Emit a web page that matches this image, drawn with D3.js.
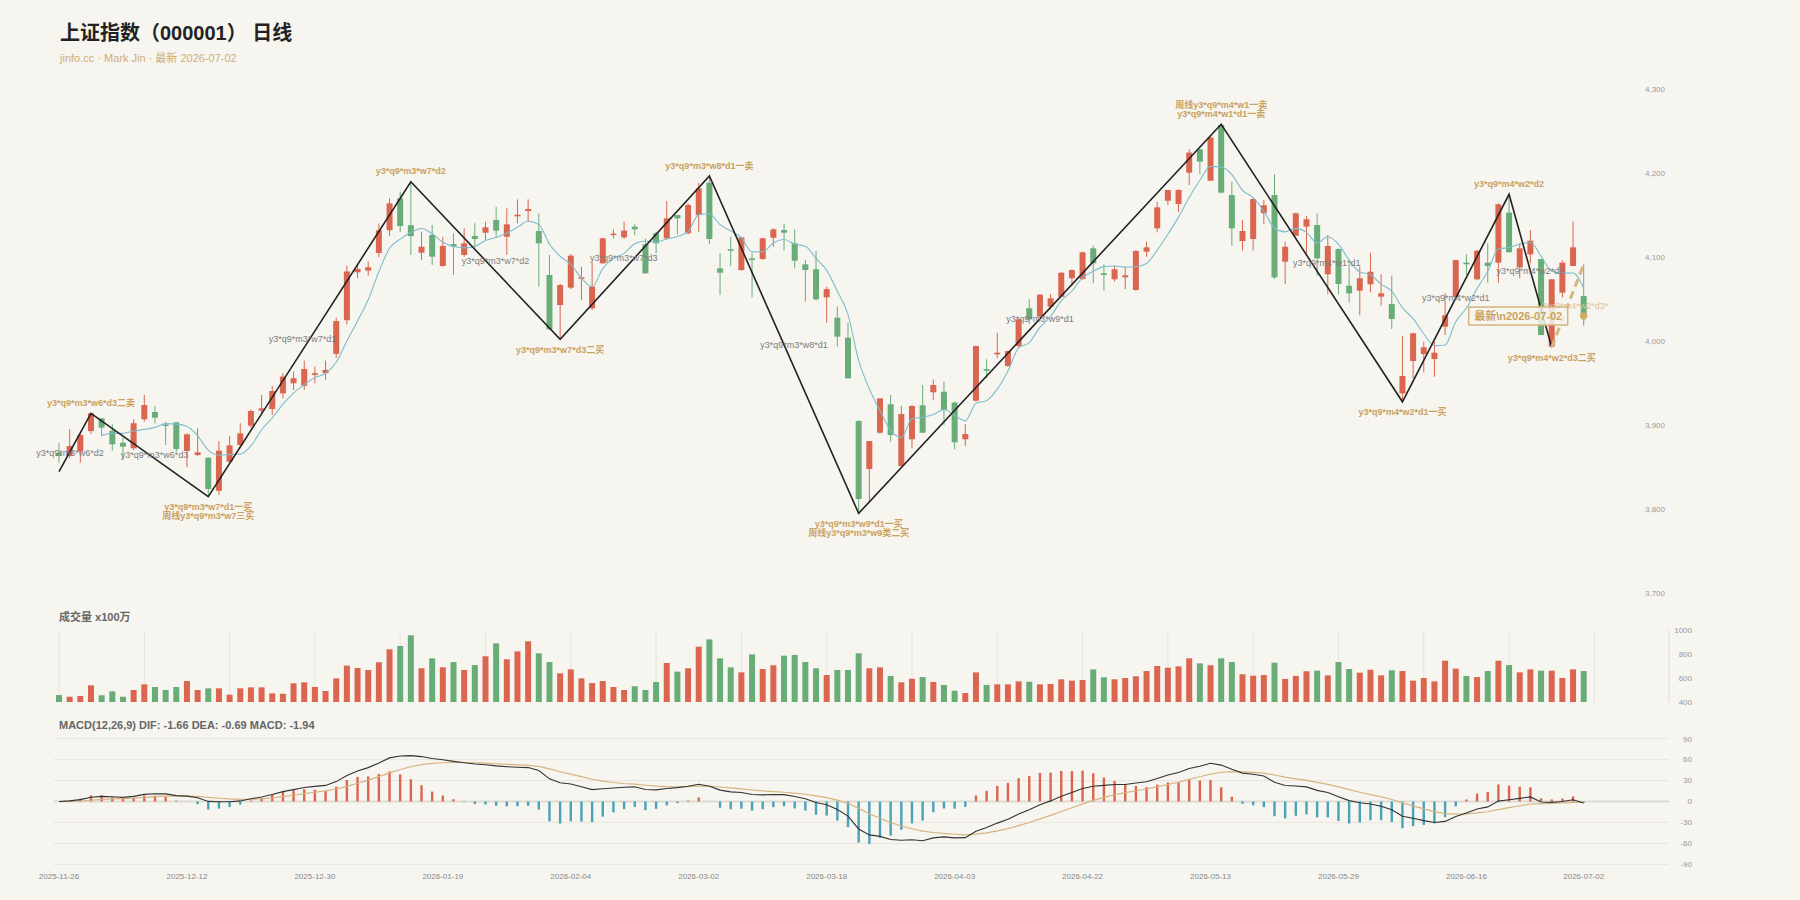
<!DOCTYPE html>
<html>
<head>
<meta charset="utf-8">
<script src="https://cdn.jsdelivr.net/npm/d3@7"></script>
<style>
  body { margin: 0; background: #f7f5f0; }
  svg { display: block; font-family: "Liberation Sans", Arial, "Noto Sans CJK SC", sans-serif; }
</style>
</head>
<body>
<div id="chart"></div>
<script>
// daily bars, 2025-11-26 .. 2026-07-02 (144 trading days)
var openP = [
  3867.4,3863.5,3869.5,3893.2,3908.3,3893.6,3879.3,3872.7,3907.2,3915.9,
  3901,3903.6,3869.5,3864.7,3861.5,3822.2,3856.7,3876.6,3899.6,3917.5,
  3919.4,3938,3950,3947,3960,3962,3985,4025,4082,4084,
  4105,4132,4170,4138,4105.3,4126.4,4089.5,4115.6,4102.6,4125.2,
  4129.1,4144.2,4124.3,4148.6,4154.9,4131.1,4078.8,4043.1,4063.7,4074.4,
  4039.2,4092.7,4126.4,4123.6,4136.3,4115.3,4128.4,4122.4,4150.1,4128.4,
  4150.1,4188.6,4086.7,4109.4,4084.7,4098.6,4097.8,4123.1,4132.3,4116.5,
  4091.5,4085.6,4052.3,4028,4004.2,3905.1,3848,3891.2,3925,3851.6,
  3883.4,3923.8,3939.3,3940,3927,3883.4,3929.3,3967,3984.4,3970.5,
  3994.3,4039.2,4029.2,4041.1,4052.9,4074.9,4074,4110.5,4080.8,4073.7,
  4076,4061,4106.5,4134.3,4167.1,4163.2,4200.5,4228.3,4190.9,4257.2,
  4173.9,4119.2,4121.6,4152.2,4173.9,4094.6,4125.5,4136.3,4138.2,4079.6,
  4109.7,4066,4060.1,4067.7,4053,4044.3,3938,3976.5,3984.8,3978.9,
  4017.3,4053,4093.5,4073.7,4093.5,4093.5,4153,4087.9,4103.4,4097.8,
  3993.5,4057.8,4089.5,4053.8
];
var highP = [
  3879.3,3895.3,3891,3915,3908.5,3901.2,3885.3,3907.3,3936.1,3923,
  3904.4,3903.6,3890.5,3896.5,3861.5,3881.3,3887.6,3902.5,3919,3936,
  3946.8,3962,3964,3977,3970,3977,4028,4090,4092,4095,
  4140,4170,4178,4189.7,4130.3,4138.2,4124.3,4128.4,4134.3,4140.3,
  4142,4160,4158,4168.8,4168.8,4152,4102.6,4068,4103.8,4088.7,
  4093.5,4123,4133.1,4142.2,4139,4122,4130.3,4166.8,4150.1,4164,
  4188.6,4196.5,4104.6,4124.3,4124,4104.6,4123,4134.3,4140,4133.1,
  4096.6,4107.3,4064.9,4041,4022,3906.3,3881.3,3932.1,3936,3923,
  3924.2,3947.9,3954.6,3951.8,3928.2,3901.6,3995,3978.5,4010.2,3989,
  4027,4049.9,4056,4056,4082,4085.5,4106.5,4113.6,4091.5,4090,
  4088.7,4108.5,4118.5,4166,4180,4180.7,4228.3,4228.3,4243,4258,
  4189.7,4144.2,4170,4168,4198.5,4118.4,4153,4149,4152.2,4126.4,
  4110.4,4092.7,4088.7,4105.3,4079.6,4078,4006.2,4010.2,3999.5,3999.5,
  4057,4097,4103.4,4108.5,4116.5,4164,4174.8,4116.5,4132.3,4098,
  4073.7,4096,4142.2,4091.8
];
var lowP = [
  3855.5,3861,3855.5,3889.7,3887.7,3869.8,3858.8,3870.6,3904.4,3902.4,
  3876.6,3868.6,3850.1,3863.5,3815.1,3817.1,3855.5,3872.7,3896.8,3912.3,
  3912.3,3932,3942,3942,3950,3954,3980,4020,4075,4078,
  4100,4125,4130,4102.6,4096.6,4090.7,4088.7,4078.8,4100.6,4111.7,
  4120.4,4124.3,4102.6,4140.3,4142.2,4064.9,4014,4002.3,4062,4049,
  4037,4092,4122.4,4121.6,4126,4080,4104.6,4121.2,4127.2,4127,
  4130.3,4115.7,4055,4089.5,4084,4052.2,4097,4112.4,4108,4086.7,
  4047,4048.3,4022,3993.5,3955.9,3795.3,3808,3890,3880.5,3851,
  3872.7,3891.2,3930,3900.4,3871.5,3875.4,3928,3955.9,3979.7,3970,
  3992,4020.5,4029,4038,4052,4066,4073,4068.9,4060.1,4071,
  4062.1,4060,4100.5,4129.5,4162,4153.3,4185.8,4199,4190.9,4176,
  4113.6,4107.7,4107.7,4139.4,4074,4068.1,4125,4104.6,4077.6,4055.8,
  4055.8,4045.8,4031,4058,4042.3,4014.6,3928,3955.9,3963,3957.8,
  4007.4,4052,4078.8,4072.5,4069.6,4069.6,4105.8,4074.9,4092.7,4007.4,
  3992.8,4052,4089.5,4018.5
];
var closeP = [
  3863.5,3875.4,3888.5,3914.3,3897.2,3877.4,3874.6,3902.5,3924.2,3909.1,
  3899.5,3871.8,3889.3,3867.9,3824.3,3869.8,3876.2,3890.5,3917,3920.2,
  3940.8,3958,3956,3967,3962,3966,4024,4083,4086,4088,
  4132,4164,4137,4125,4112.4,4100.6,4113.3,4112.4,4116.4,4121.6,
  4135.5,4131.5,4139,4150.5,4157.3,4116.5,4014.2,4066.9,4101.8,4076,
  4064.9,4122.4,4128,4131.5,4133.1,4080.8,4116.5,4146.2,4146.2,4162,
  4181.9,4121.6,4081.5,4108.2,4123.6,4096.6,4122.4,4133.1,4129.1,4095.8,
  4084.7,4049.9,4062,4005.5,3955.9,3812.4,3881.3,3932.1,3888.5,3913.5,
  3923,3891.2,3947.9,3918.2,3879.8,3889.7,3994.3,3965,3986.4,3988.4,
  4026.1,4026.1,4055.4,4051.1,4081.5,4084.7,4105.8,4092.7,4078.8,4085.6,
  4078.4,4107.3,4111.7,4159.3,4179.9,4179.9,4224.4,4213.6,4242.2,4176.7,
  4134.3,4131.1,4169.2,4161.7,4076,4112.4,4152.2,4145.1,4098.6,4113.3,
  4068.1,4057,4074.9,4082.7,4057,4026.5,3958.7,4009.4,3992.8,3986.4,
  4030.8,4096.6,4091.5,4107.7,4089.5,4162.9,4105.8,4110.5,4119.6,4007.4,
  4073.7,4093.5,4111.7,4030
];
var volume = [
  458,444,450,539,456,489,444,500,547,525,
  500,525,575,500,514,514,461,514,522,522,
  472,469,556,564,525,492,597,703,683,667,
  731,839,867,956,681,764,689,733,667,708,
  781,889,756,822,906,806,733,639,672,597,
  558,575,525,500,531,500,567,725,653,681,
  861,922,764,689,647,797,675,706,786,792,
  733,681,625,667,667,806,681,689,617,564,
  594,608,567,542,494,475,647,542,547,547,
  572,569,547,550,589,578,583,672,606,589,
  600,614,658,700,686,697,764,722,706,764,
  733,631,619,625,728,592,617,656,661,622,
  733,675,644,669,622,664,658,578,600,572,
  744,678,617,608,658,744,708,647,672,661,
  661,600,672,658
];

var tickIdx = [0, 12, 24, 36, 48, 60, 72, 84, 96, 108, 120, 132, 143];
var tickLabels = ["2025-11-26","2025-12-12","2025-12-30","2026-01-19","2026-02-04","2026-03-02",
  "2026-03-18","2026-04-03","2026-04-22","2026-05-13","2026-05-29","2026-06-16","2026-07-02"];
var priceTicks = [3700, 3800, 3900, 4000, 4100, 4200, 4300];
var volTicks = [400, 600, 800, 1000];
var macdTicks = [-90, -60, -30, 0, 30, 60, 90];

// zigzag turning points (bar index, price)
var pivotIdx = [0, 3, 14, 33, 47, 61, 75, 109, 126, 136, 140];
var pivotPrice = [3845, 3914.3, 3815.1, 4189.7, 4002.3, 4196.5, 3795.3, 4258, 3928, 4174.8, 3992.8];
var pivotText = [
  [],
  ["y3*q9*m3*w6*d3二卖"],
  ["y3*q9*m3*w7*d1一买", "周线y3*q9*m3*w7三买"],
  ["y3*q9*m3*w7*d2"],
  ["y3*q9*m3*w7*d3二买"],
  ["y3*q9*m3*w8*d1一卖"],
  ["y3*q9*m3*w9*d1一买", "周线y3*q9*m3*w9类二买"],
  ["y3*q9*m4*w1*d1一卖", "周线y3*q9*m4*w1一卖"],
  ["y3*q9*m4*w2*d1一买"],
  ["y3*q9*m4*w2*d2"],
  ["y3*q9*m4*w2*d3二买"]
];
var segText = ["y3*q9*m3*w6*d2","y3*q9*m3*w6*d3","y3*q9*m3*w7*d1","y3*q9*m3*w7*d2","y3*q9*m3*w7*d3",
  "y3*q9*m3*w8*d1","y3*q9*m3*w9*d1","y3*q9*m4*w1*d1","y3*q9*m4*w2*d1","y3*q9*m4*w2*d2"];
// unfinished stroke
var pendingIdx = [140, 143];
var pendingPrice = [3992.8, 4091.5];
var pendingText = "y3*q9*m4*w2*d3*";

var W = 1800, H = 900;
var RED = "#da6650", GREEN = "#68ad78", TAN = "#caa25f", BLUE = "#4aa2b6";

var svg = d3.select("#chart").append("svg").attr("width", W).attr("height", H);
svg.append("rect").attr("width", W).attr("height", H).attr("fill", "#f7f5f0");

var n = closeP.length;
var bars = d3.range(n).map(function (i) {
  return { i: i, o: openP[i], h: highP[i], l: lowP[i], c: closeP[i], v: volume[i] };
});
function col(d) { return d.c >= d.o ? RED : GREEN; }

var x = d3.scaleLinear().domain([0, 143]).range([59, 1583.7]);
var y = d3.scaleLinear().domain([3700, 4300]).range([593.5, 89]);
var yv = d3.scaleLinear().domain([400, 1000]).range([702, 630]);
var ym = d3.scaleLinear().domain([-90, 90]).range([864.3, 738.7]);
var axisRight = 1692;

// title
svg.append("text").attr("x", 60).attr("y", 40)
  .style("font-size", "20px").style("font-weight", "bold").attr("fill", "#222")
  .text("上证指数（000001） 日线");
svg.append("text").attr("x", 60).attr("y", 62)
  .style("font-size", "11px").attr("fill", "#d0ad72")
  .text("jinfo.cc · Mark Jin · 最新 2026-07-02");

// ---- price panel
svg.append("g").selectAll("text").data(priceTicks).join("text")
  .attr("x", 1665).attr("y", function (d) { return y(d); }).attr("dy", "0.35em")
  .attr("text-anchor", "end").style("font-size", "8px").attr("fill", "#999")
  .text(d3.format(","));

var candle = svg.append("g").selectAll("g").data(bars).join("g");
candle.append("line")
  .attr("x1", function (d) { return x(d.i); }).attr("x2", function (d) { return x(d.i); })
  .attr("y1", function (d) { return y(d.h); }).attr("y2", function (d) { return y(d.l); })
  .attr("stroke", col).attr("stroke-width", 1);
candle.append("rect")
  .attr("x", function (d) { return x(d.i) - 3; }).attr("width", 6)
  .attr("y", function (d) { return y(Math.max(d.o, d.c)); })
  .attr("height", function (d) { return Math.max(1.5, Math.abs(y(d.o) - y(d.c))); })
  .attr("fill", col);

// MA5
var ma = [];
for (var i = 4; i < n; i++) ma.push({ i: i, v: d3.mean(closeP.slice(i - 4, i + 1)) });
svg.append("path").datum(ma)
  .attr("d", d3.line().x(function (d) { return x(d.i); }).y(function (d) { return y(d.v); }).curve(d3.curveMonotoneX))
  .attr("fill", "none").attr("stroke", "#7dbdcc").attr("stroke-width", 1.1);

// zigzag
var piv = pivotIdx.map(function (d, k) { return { i: d, p: pivotPrice[k], t: pivotText[k] }; });
svg.append("path").datum(piv)
  .attr("d", d3.line().x(function (d) { return x(d.i); }).y(function (d) { return y(d.p); }))
  .attr("fill", "none").attr("stroke", "#222").attr("stroke-width", 1.6);

var pend = pendingIdx.map(function (d, k) { return { i: d, p: pendingPrice[k] }; });
svg.append("path").datum(pend)
  .attr("d", d3.line().x(function (d) { return x(d.i); }).y(function (d) { return y(d.p); }))
  .attr("fill", "none").attr("stroke", "#d6b57c").attr("stroke-width", 3).attr("stroke-dasharray", "8,5");

// segment labels, nudged a little like the original
var segDx = [-5, 5, -7, 10, -11, 10, 0, 15, 0, 0];
var segDy = [10, 0, 0, 0, 0, 0, 0, 0, 0, 0];
var segs = segText.map(function (t, k) {
  return { t: t, dx: segDx[k], dy: segDy[k], i: (piv[k].i + piv[k + 1].i) / 2, p: (piv[k].p + piv[k + 1].p) / 2 };
});
svg.append("g").selectAll("text").data(segs).join("text")
  .attr("x", function (d) { return x(d.i) + d.dx; }).attr("y", function (d) { return y(d.p) + d.dy; }).attr("dy", "0.35em")
  .attr("text-anchor", "middle").style("font-size", "9px").attr("fill", "#7c7c7c")
  .text(function (d) { return d.t; });
svg.append("text")
  .attr("x", x(d3.mean(pendingIdx)) + 5).attr("y", y(d3.mean(pendingPrice))).attr("dy", "0.35em")
  .attr("text-anchor", "middle").style("font-size", "9px").attr("fill", "#dcc191")
  .text(pendingText);

// turning point labels
piv.forEach(function (d, k) {
  if (!d.t.length) return;
  var up = k > 0 && d.p > piv[k - 1].p;
  d.t.forEach(function (t, j) {
    var yy = up ? y(d.p) - 10.5 - j * 9 : y(d.p) + 10.5 + j * 9;
    svg.append("text").attr("x", x(d.i)).attr("y", yy).attr("dy", "0.35em")
      .attr("text-anchor", "middle").style("font-size", "9px").style("font-weight", "bold")
      .attr("fill", TAN).text(t);
  });
});

// latest marker
var last = bars[n - 1];
svg.append("circle").attr("cx", x(last.i)).attr("cy", y(last.c)).attr("r", 3.7).attr("fill", "#d2ab68");
var lg = svg.append("g").attr("transform", "translate(" + (x(last.i) - 16) + "," + y(last.c) + ")");
lg.append("rect").attr("x", -99).attr("y", -9).attr("width", 99).attr("height", 18)
  .attr("fill", "#f7f5f0").attr("fill-opacity", 0.85).attr("stroke", "#d4b57e").attr("stroke-width", 1.5);
lg.append("text").attr("x", -49.5).attr("dy", "0.36em").attr("text-anchor", "middle")
  .style("font-size", "11px").style("font-weight", "bold").attr("fill", TAN)
  .text("最新\\n2026-07-02");

// ---- volume panel
svg.append("text").attr("x", 59).attr("y", 621)
  .style("font-size", "11px").style("font-weight", "bold").attr("fill", "#666").text("成交量 x100万");
svg.append("g").selectAll("line").data(d3.range(0, 145, 8)).join("line")
  .attr("x1", function (d) { return x(d); }).attr("x2", function (d) { return x(d); })
  .attr("y1", 630).attr("y2", 702).attr("stroke", "#e6e3dc").attr("stroke-width", 1);
svg.append("line").attr("x1", 1669).attr("x2", 1669).attr("y1", 630).attr("y2", 702)
  .attr("stroke", "#dddad3");
svg.append("g").selectAll("text").data(volTicks).join("text")
  .attr("x", axisRight).attr("y", function (d) { return yv(d); }).attr("dy", "0.35em")
  .attr("text-anchor", "end").style("font-size", "8px").attr("fill", "#999").text(function (d) { return d; });
svg.append("g").selectAll("rect").data(bars).join("rect")
  .attr("x", function (d) { return x(d.i) - 3; }).attr("width", 6)
  .attr("y", function (d) { return yv(d.v); })
  .attr("height", function (d) { return yv(400) - yv(d.v); })
  .attr("fill", col);

// ---- MACD panel (12,26,9) from closes
var e12 = closeP[0], e26 = closeP[0], dea = 0, macd = [];
closeP.forEach(function (c, i) {
  e12 = (2 * c + 11 * e12) / 13;
  e26 = (2 * c + 25 * e26) / 27;
  var dif = e12 - e26;
  dea = (2 * dif + 8 * dea) / 10;
  macd.push({ i: i, dif: dif, dea: dea, hist: 2 * (dif - dea) });
});
svg.append("text").attr("x", 59).attr("y", 729)
  .style("font-size", "11px").style("font-weight", "bold").attr("fill", "#666")
  .text("MACD(12,26,9) DIF: -1.66 DEA: -0.69 MACD: -1.94");
svg.append("g").selectAll("line").data(macdTicks).join("line")
  .attr("x1", 53.5).attr("x2", 1669).attr("y1", function (d) { return ym(d); }).attr("y2", function (d) { return ym(d); })
  .attr("stroke", function (d) { return d === 0 ? "#dedbd4" : "#e8e5de"; })
  .attr("stroke-width", function (d) { return d === 0 ? 2 : 1; });
svg.append("g").selectAll("text").data(macdTicks).join("text")
  .attr("x", axisRight).attr("y", function (d) { return ym(d); }).attr("dy", "0.35em")
  .attr("text-anchor", "end").style("font-size", "8px").attr("fill", "#999").text(function (d) { return d; });
svg.append("g").selectAll("rect").data(macd).join("rect")
  .attr("x", function (d) { return x(d.i) - 1.2; }).attr("width", 2.4)
  .attr("y", function (d) { return ym(Math.max(0, d.hist)); })
  .attr("height", function (d) { return Math.abs(ym(d.hist) - ym(0)); })
  .attr("fill", function (d) { return d.hist >= 0 ? RED : BLUE; });
svg.append("path").datum(macd)
  .attr("d", d3.line().x(function (d) { return x(d.i); }).y(function (d) { return ym(d.dea); }))
  .attr("fill", "none").attr("stroke", "#d6b47f").attr("stroke-width", 1.2);
svg.append("path").datum(macd)
  .attr("d", d3.line().x(function (d) { return x(d.i); }).y(function (d) { return ym(d.dif); }))
  .attr("fill", "none").attr("stroke", "#333").attr("stroke-width", 1.1);

svg.append("g").selectAll("text").data(tickIdx).join("text")
  .attr("x", function (d) { return x(d); }).attr("y", 878.5).attr("text-anchor", "middle")
  .style("font-size", "8px").attr("fill", "#888")
  .text(function (d, k) { return tickLabels[k]; });
</script>
</body>
</html>
